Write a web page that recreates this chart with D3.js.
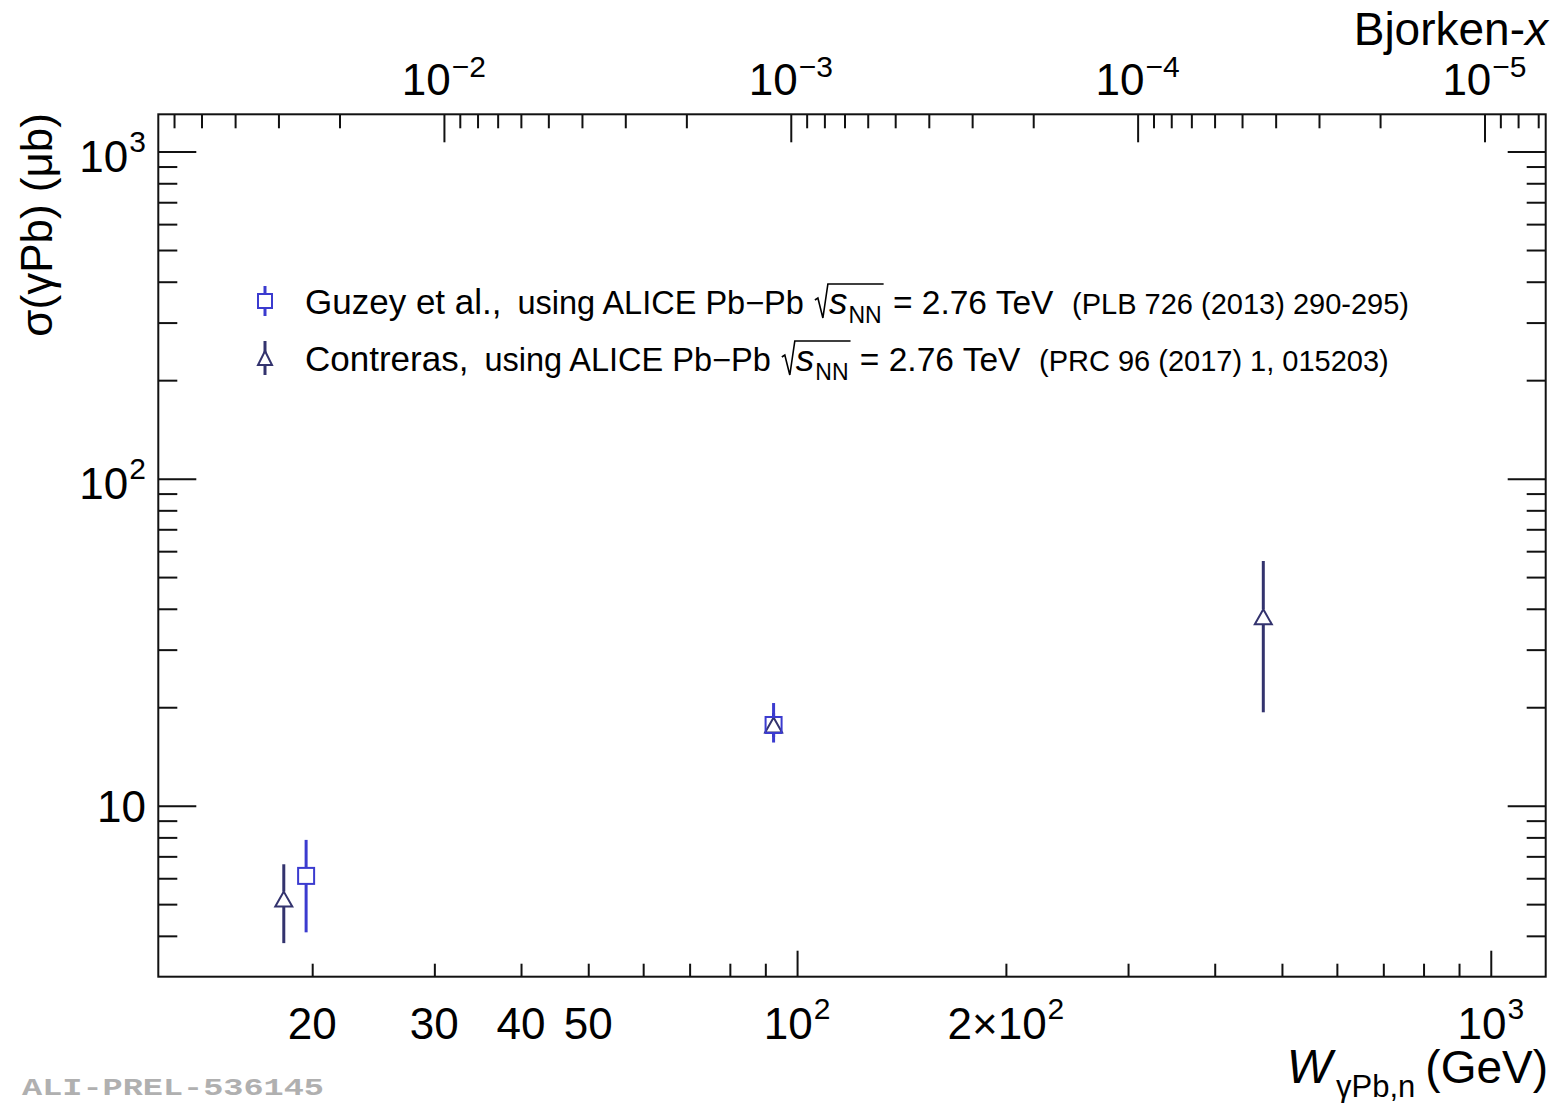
<!DOCTYPE html>
<html>
<head>
<meta charset="utf-8">
<script src="https://cdn.jsdelivr.net/npm/d3@7"></script>
<style>
  body { margin: 0; background: #fff; }
  text { font-family: "Liberation Sans", Arial, Helvetica, sans-serif; white-space: pre; fill: #000; }
</style>
</head>
<body>
<svg id="chart" width="1557" height="1103"></svg>
<script>
// ---- data ---------------------------------------------------------------
const JPSI_MASS = 3.0969;               // GeV, for Bjorken-x = (M/W)^2
const wRange = [12, 1200];              // W_gammaPb,n (GeV)
const sigmaRange = [3, 1300];           // sigma (ub)

// Guzey et al.
const guzeyW     = [19.6, 92.5];
const guzeySigma = [6.10, 17.65];
const guzeyHigh  = [7.86, 20.6];
const guzeyLow   = [4.10, 15.6];

// Contreras
const contrerasW     = [18.2, 92.5, 470];
const contrerasSigma = [5.18, 17.65, 37.8];
const contrerasHigh  = [6.62, 19.2, 56.0];
const contrerasLow   = [3.80, 16.2, 19.3];

// tick values and labels ([mantissa text, exponent text])
const wMajorTicks = [100, 1000];
const wMinorTicks = [20, 30, 40, 50, 60, 70, 80, 90, 200, 300, 400, 500, 600, 700, 800, 900];
const wLabelTicks = [20, 30, 40, 50, 100, 200, 1000];
const wLabels = [["20"], ["30"], ["40"], ["50"], ["10", "2"], ["2\u00d710", "2"], ["10", "3"]];

const sigmaMajorTicks = [10, 100, 1000];
const sigmaMinorTicks = [4, 5, 6, 7, 8, 9, 20, 30, 40, 50, 60, 70, 80, 90, 200, 300, 400, 500, 600, 700, 800, 900];
const sigmaLabels = [["10"], ["10", "2"], ["10", "3"]];

const bjxMajorTicks = [1e-2, 1e-3, 1e-4, 1e-5];
const bjxMinorTicks = [6e-2, 5e-2, 4e-2, 3e-2, 2e-2,
  9e-3, 8e-3, 7e-3, 6e-3, 5e-3, 4e-3, 3e-3, 2e-3,
  9e-4, 8e-4, 7e-4, 6e-4, 5e-4, 4e-4, 3e-4, 2e-4,
  9e-5, 8e-5, 7e-5, 6e-5, 5e-5, 4e-5, 3e-5, 2e-5,
  9e-6, 8e-6, 7e-6];
const bjxLabels = [["10", "\u22122"], ["10", "\u22123"], ["10", "\u22124"], ["10", "\u22125"]];

const legendNames = ["Guzey et al.,", "Contreras,"];
const legendRefs = ["(PLB 726 (2013) 290-295)", "(PRC 96 (2017) 1, 015203)"];
const guzeyColor = "#3b3bcf";
const contrerasColor = "#33336e";

// ---- frame & scales -----------------------------------------------------
const L = 158.3, R = 1545.7, T = 114.3, B = 976.7;
const svg = d3.select("#chart");

const x = d3.scaleLog().domain(wRange).range([L, R]);
const y = d3.scaleLog().domain(sigmaRange).range([B, T]);
const bjx = d3.scaleLog().domain(wRange.map(w => (JPSI_MASS / w) ** 2)).range([L, R]);

function ticks(axis, transform) {
  svg.append("g").attr("transform", transform)
    .call(axis.tickFormat(""))
    .call(g => g.select(".domain").remove())
    .call(g => g.selectAll("line").attr("stroke", "#111").attr("stroke-width", 2));
}

// bottom W axis (ticks point up, into the frame)
ticks(d3.axisTop(x).tickValues(wMajorTicks).tickSize(26), `translate(0,${B})`);
ticks(d3.axisTop(x).tickValues(wMinorTicks).tickSize(13), `translate(0,${B})`);
// left & right sigma axes
ticks(d3.axisRight(y).tickValues(sigmaMajorTicks).tickSize(38), `translate(${L},0)`);
ticks(d3.axisRight(y).tickValues(sigmaMinorTicks).tickSize(19), `translate(${L},0)`);
ticks(d3.axisLeft(y).tickValues(sigmaMajorTicks).tickSize(38), `translate(${R},0)`);
ticks(d3.axisLeft(y).tickValues(sigmaMinorTicks).tickSize(19), `translate(${R},0)`);
// top Bjorken-x axis (ticks point down)
ticks(d3.axisBottom(bjx).tickValues(bjxMajorTicks).tickSize(28), `translate(0,${T})`);
ticks(d3.axisBottom(bjx).tickValues(bjxMinorTicks).tickSize(14), `translate(0,${T})`);

svg.append("rect").attr("x", L).attr("y", T).attr("width", R - L).attr("height", B - T)
  .attr("fill", "none").attr("stroke", "#111").attr("stroke-width", 2);

// ---- power-of-ten labels --------------------------------------------------
function powerLabel(px, py, parts, anchor, size, supSize, raise) {
  const g = svg.append("g");
  const t1 = g.append("text").attr("x", 0).attr("y", 0).style("font-size", size + "px").text(parts[0]);
  let w = t1.node().getComputedTextLength();
  if (parts[1]) {
    const t2 = g.append("text").attr("x", w + 1).attr("y", -raise).style("font-size", supSize + "px").text(parts[1]);
    w += 1 + t2.node().getComputedTextLength();
  }
  const dx = anchor === "middle" ? -w / 2 : anchor === "end" ? -w : 0;
  g.attr("transform", `translate(${px + dx},${py})`);
}

wLabelTicks.forEach((v, i) => powerLabel(x(v), 1039, wLabels[i], "middle", 44, 30, 20));
sigmaMajorTicks.forEach((v, i) => powerLabel(146, y(v) + (sigmaLabels[i][1] ? 20 : 16.5), sigmaLabels[i], "end", 44, 30, 20));
bjxMajorTicks.forEach((v, i) => powerLabel(bjx(v), 95, bjxLabels[i], "middle", 44, 30, 18));

// ---- axis titles ----------------------------------------------------------
svg.append("text").attr("x", 1548).attr("y", 45).attr("text-anchor", "end").style("font-size", "46px")
  .html('Bjorken-<tspan font-style="italic">x</tspan>');

svg.append("text").attr("transform", "translate(52,113) rotate(-90)").attr("text-anchor", "end")
  .style("font-size", "44px").text("\u03c3(\u03b3Pb) (\u03bcb)");

{
  const g = svg.append("g");
  const a = g.append("text").attr("x", 0).attr("y", 0).style("font-size", "48px").style("font-style", "italic").text("W");
  let w = a.node().getComputedTextLength() + 4;
  const b = g.append("text").attr("x", w).attr("y", 14).style("font-size", "31px").text("\u03b3Pb,n");
  w += b.node().getComputedTextLength() + 10;
  const c = g.append("text").attr("x", w).attr("y", 0).style("font-size", "46px").text("(GeV)");
  w += c.node().getComputedTextLength();
  g.attr("transform", `translate(${1548 - w},1083)`);
}

// ---- data points ------------------------------------------------------------
const SQ = 8;       // half side of the open square
const TRI_H = 15, TRI_W = 17;

function trianglePath(cx, cy) {
  return `M${cx},${cy - TRI_H / 2}L${cx + TRI_W / 2},${cy + TRI_H / 2}L${cx - TRI_W / 2},${cy + TRI_H / 2}Z`;
}

function errorBar(g, px, pyHigh, pyLow, top, bottom, color) {
  if (pyHigh < top) g.append("line").attr("x1", px).attr("x2", px).attr("y1", pyHigh).attr("y2", top)
    .attr("stroke", color).attr("stroke-width", 3);
  if (pyLow > bottom) g.append("line").attr("x1", px).attr("x2", px).attr("y1", bottom).attr("y2", pyLow)
    .attr("stroke", color).attr("stroke-width", 3);
}

// Contreras (open triangles)
const gC = svg.append("g");
contrerasW.forEach((w, i) => {
  const px = x(w), py = y(contrerasSigma[i]);
  errorBar(gC, px, y(contrerasHigh[i]), y(contrerasLow[i]), py - TRI_H / 2, py + TRI_H / 2, contrerasColor);
  gC.append("path").attr("d", trianglePath(px, py)).attr("fill", "none")
    .attr("stroke", contrerasColor).attr("stroke-width", 2);
});

// Guzey et al. (open squares)
const gG = svg.append("g");
guzeyW.forEach((w, i) => {
  const px = x(w), py = y(guzeySigma[i]);
  errorBar(gG, px, y(guzeyHigh[i]), y(guzeyLow[i]), py - SQ, py + SQ, guzeyColor);
  gG.append("rect").attr("x", px - SQ).attr("y", py - SQ).attr("width", 2 * SQ).attr("height", 2 * SQ)
    .attr("fill", "none").attr("stroke", guzeyColor).attr("stroke-width", 2);
});

// ---- legend -------------------------------------------------------------------
function legendLine(x0, base, runs) {
  let cx = x0;
  runs.forEach(r => {
    if (r.gap) { cx += r.gap; return; }
    if (r.sqrt) {
      const top = base - 30;
      const start = cx + 2;
      cx += 16;
      const sT = svg.append("text").attr("x", cx).attr("y", base).style("font-size", "37px")
        .style("font-style", "italic").text("s");
      cx += sT.node().getComputedTextLength() + 1;
      const nT = svg.append("text").attr("x", cx).attr("y", base + 9).style("font-size", "23px").text("NN");
      cx += nT.node().getComputedTextLength() + 2;
      svg.append("path")
        .attr("d", `M${start},${base - 14}L${start + 3},${base - 16}L${start + 8},${base + 4}L${start + 13},${top}L${cx},${top}`)
        .attr("fill", "none").attr("stroke", "#000").attr("stroke-width", 1.6);
      return;
    }
    const t = svg.append("text").attr("x", cx).attr("y", base).style("font-size", r.size + "px").text(r.text);
    cx += t.node().getComputedTextLength();
  });
}

const legendX = 265, textX = 305;
const legendY = [301, 358];

// markers
svg.append("line").attr("x1", legendX).attr("x2", legendX).attr("y1", legendY[0] - 15).attr("y2", legendY[0] + 15)
  .attr("stroke", guzeyColor).attr("stroke-width", 3);
svg.append("rect").attr("x", legendX - 7).attr("y", legendY[0] - 7).attr("width", 14).attr("height", 14)
  .attr("fill", "#fff").attr("stroke", guzeyColor).attr("stroke-width", 2);
svg.append("line").attr("x1", legendX).attr("x2", legendX).attr("y1", legendY[1] - 17).attr("y2", legendY[1] + 17)
  .attr("stroke", contrerasColor).attr("stroke-width", 3);
svg.append("path").attr("d", `M${legendX},${legendY[1] - 7}L${legendX + 7},${legendY[1] + 7}L${legendX - 7},${legendY[1] + 7}Z`)
  .attr("fill", "#fff").attr("stroke", contrerasColor).attr("stroke-width", 2);

legendNames.forEach((name, i) => {
  legendLine(textX, legendY[i] + 13, [
    { text: name, size: 35 },
    { gap: 16 },
    { text: "using ALICE Pb\u2212Pb ", size: 32.5 },
    { sqrt: true },
    { text: " = 2.76 TeV  ", size: 33.5 },
    { text: legendRefs[i], size: 29 }
  ]);
});

// ---- preliminary tag ---------------------------------------------------------
svg.append("text").attr("x", 22).attr("y", 1095)
  .attr("textLength", 302).attr("lengthAdjust", "spacingAndGlyphs")
  .style("font-family", "'Liberation Mono', 'DejaVu Sans Mono', monospace")
  .style("font-weight", "bold").style("font-size", "24px").style("fill", "#b0b0b0")
  .text("ALI-PREL-536145");
</script>
</body>
</html>
